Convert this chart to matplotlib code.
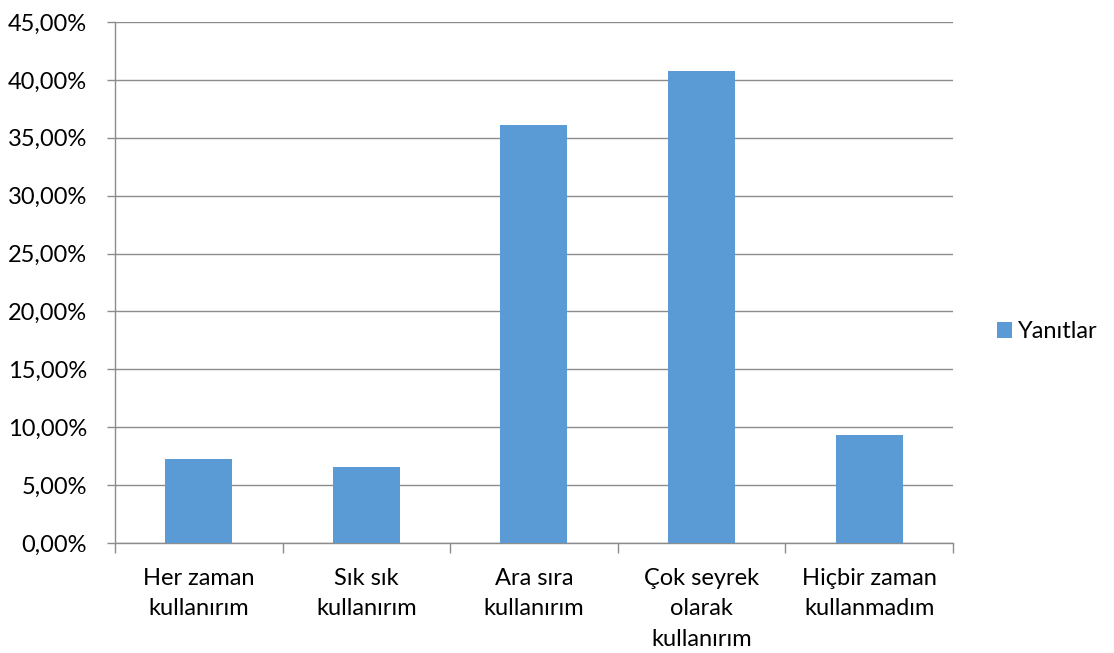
import matplotlib
matplotlib.use("Agg")
import matplotlib.pyplot as plt
from matplotlib.ticker import FuncFormatter, MultipleLocator
from matplotlib.patches import Patch

categories = ["Her zaman\nkullanırım", "Sık sık\nkullanırım", "Ara sıra\nkullanırım",
              "Çok seyrek\nolarak\nkullanırım", "Hiçbir zaman\nkullanmadım"]
values = [7.22, 6.60, 36.08, 40.78, 9.32]
series_name = "Yanıtlar"

bar_color = "#5B9BD5"
grid_color = "#8C8C8C"
font_size = 17
plt.rcParams["font.family"] = ["Lato", "DejaVu Sans"]

fig = plt.figure(figsize=(11.14, 6.53), dpi=100)
ax = fig.add_axes([0.1032, 0.1685, 0.7522, 0.7978])

x = list(range(len(categories)))
ax.bar(x, values, width=0.4, color=bar_color, zorder=3)

ax.set_xlim(-0.5, len(categories) - 0.5)
ax.set_ylim(0, 45)
ax.yaxis.set_major_locator(MultipleLocator(5))
ax.yaxis.set_major_formatter(FuncFormatter(lambda v, p: f"{v:.2f}".replace(".", ",") + "%"))
ax.grid(axis="y", color=grid_color, linewidth=1.0, zorder=0)

for s in ["top", "right"]:
    ax.spines[s].set_visible(False)
for s in ["left", "bottom"]:
    ax.spines[s].set_color(grid_color)
    ax.spines[s].set_linewidth(1.0)

# category boundaries carry the tick marks, labels sit at the centres
ax.set_xticks([i - 0.5 for i in range(len(categories) + 1)])
ax.set_xticklabels([])
ax.set_xticks(x, minor=True)
ax.set_xticklabels(categories, minor=True, fontsize=font_size, color="#000000",
                   linespacing=1.55, va="top")
ax.tick_params(axis="x", which="major", length=7, color=grid_color, width=1.0)
ax.tick_params(axis="x", which="minor", length=0, pad=18)
ax.tick_params(axis="y", length=6, color=grid_color, width=1.0, labelsize=font_size,
               labelcolor="#000000", pad=14)

handles = [Patch(facecolor=bar_color, edgecolor="none", label=series_name)]
fig.legend(handles=handles, loc="center left", bbox_to_anchor=(0.895, 0.492),
           frameon=False, fontsize=font_size, handlelength=0.64, handleheight=0.64,
           handletextpad=0.25, borderaxespad=0, borderpad=0)

fig.savefig("out.png", dpi=100)
